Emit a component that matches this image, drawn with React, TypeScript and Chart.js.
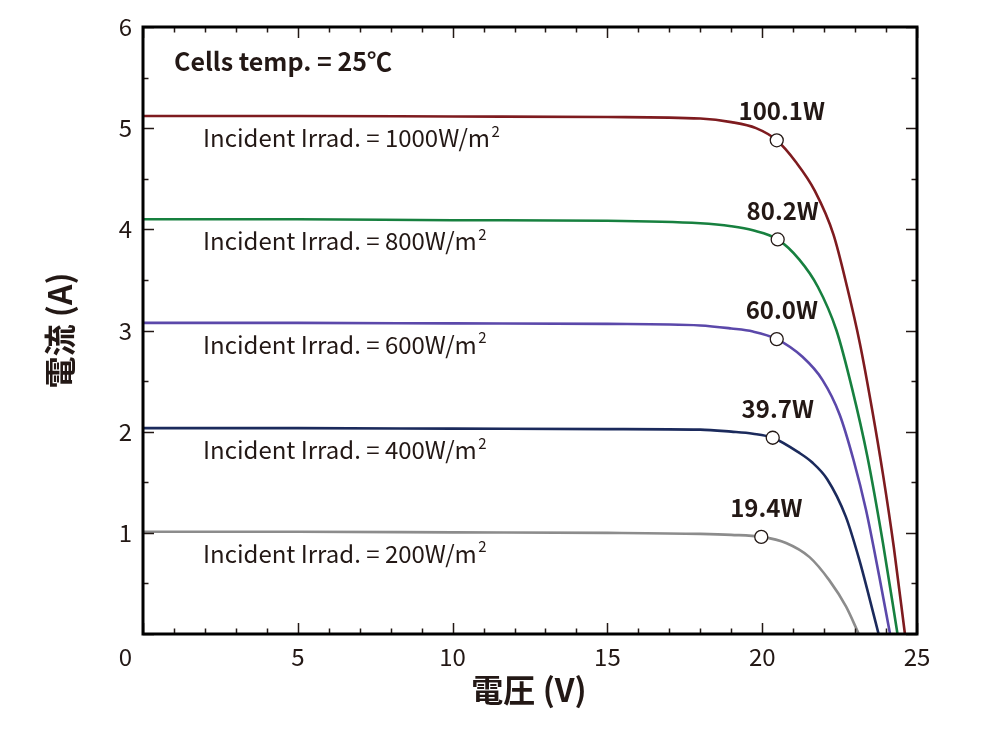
import React, { useEffect, useRef } from 'react';
import { Chart, registerables } from 'chart.js';

Chart.register(...registerables);

// ---- data ----
const V1000 = [0, 5, 10, 15, 18, 19, 19.8, 20.47, 21.1, 21.7, 22.3, 22.75, 23.15, 23.55, 23.9, 24.25, 24.61];
const I1000 = [5.12, 5.12, 5.115, 5.11, 5.095, 5.06, 5.0, 4.88, 4.66, 4.38, 3.95, 3.42, 2.88, 2.22, 1.58, 0.86, 0];

const V800 = [0, 5, 10, 15, 18, 19, 19.7, 20.5, 21.2, 21.8, 22.4, 22.9, 23.4, 23.9, 24.37];
const I800 = [4.1, 4.1, 4.09, 4.085, 4.06, 4.03, 3.99, 3.9, 3.7, 3.43, 3.0, 2.43, 1.75, 0.9, 0];

const V600 = [0, 5, 10, 15, 18, 19, 19.7, 20.47, 21.3, 21.95, 22.5, 22.95, 23.35, 23.78, 24.13];
const I600 = [3.075, 3.075, 3.07, 3.065, 3.05, 3.02, 2.99, 2.915, 2.74, 2.51, 2.17, 1.72, 1.23, 0.57, 0];

const V400 = [0, 5, 10, 15, 18, 19, 19.7, 20.34, 21.2, 21.6, 22.1, 22.7, 23.14, 23.46, 23.76];
const I400 = [2.035, 2.035, 2.03, 2.025, 2.02, 2.0, 1.98, 1.94, 1.79, 1.7, 1.53, 1.16, 0.73, 0.36, 0];

const V200 = [0, 5, 10, 15, 18, 19, 19.97, 20.77, 21.53, 22.17, 22.71, 23.12];
const I200 = [1.01, 1.01, 1.005, 1.0, 0.99, 0.98, 0.96, 0.9, 0.76, 0.53, 0.27, 0];

const seriesLabels = [
  'Incident Irrad. = 1000W/m',
  'Incident Irrad. = 800W/m',
  'Incident Irrad. = 600W/m',
  'Incident Irrad. = 400W/m',
  'Incident Irrad. = 200W/m',
];
const unitSuperscript = '2';
const seriesColors = ['#7e1b1f', '#17803f', '#5b48aa', '#1b2a5c', '#8c8c8c'];

const mppV = [20.47, 20.5, 20.47, 20.34, 19.97];
const mppI = [4.88, 3.9, 2.915, 1.94, 0.96];
const mppLabels = ['100.1W', '80.2W', '60.0W', '39.7W', '19.4W'];

const xTickValues = [0, 5, 10, 15, 20, 25];
const yTickValues = [0, 1, 2, 3, 4, 5, 6];

const tempLabel = 'Cells temp. = 25℃';
const xTitle = '電圧 (V)';
const yTitle = '電流 (A)';

const FONT = '"Noto Sans CJK JP", "Noto Sans", sans-serif';
const TEXT = '#231815';

const seriesV = [V1000, V800, V600, V400, V200];
const seriesI = [I1000, I800, I600, I400, I200];

const decorPlugin = {
  id: 'decor',
  afterDatasetsDraw(chart: any) {
    const { ctx, chartArea: a, scales } = chart;
    const x = scales.x;
    const y = scales.y;
    ctx.save();

    // inward tick marks on all four sides
    ctx.strokeStyle = TEXT;
    ctx.lineWidth = 1.5;
    for (let v = 0; v <= 25; v++) {
      const px = Math.round(x.getPixelForValue(v)) + 0.5;
      const len = v % 5 === 0 ? 11 : 5.5;
      ctx.beginPath();
      ctx.moveTo(px, a.bottom);
      ctx.lineTo(px, a.bottom - len);
      ctx.moveTo(px, a.top);
      ctx.lineTo(px, a.top + len);
      ctx.stroke();
    }
    for (let k = 0; k <= 12; k++) {
      const v = k / 2;
      const py = Math.round(y.getPixelForValue(v)) + 0.5;
      const len = k % 2 === 0 ? 11 : 5.5;
      ctx.beginPath();
      ctx.moveTo(a.left, py);
      ctx.lineTo(a.left + len, py);
      ctx.moveTo(a.right, py);
      ctx.lineTo(a.right - len, py);
      ctx.stroke();
    }

    // frame
    ctx.strokeStyle = '#000';
    ctx.lineWidth = 3;
    ctx.strokeRect(a.left, a.top, a.right - a.left, a.bottom - a.top);

    ctx.fillStyle = TEXT;

    // irradiance labels, under each curve's plateau
    ctx.textAlign = 'left';
    ctx.textBaseline = 'alphabetic';
    seriesLabels.forEach((t, i) => {
      const py = y.getPixelForValue(seriesI[i][0]) + 31;
      const px = x.getPixelForValue(0) + 60;
      ctx.font = `400 24px ${FONT}`;
      ctx.fillText(t, px, py);
      const w = ctx.measureText(t).width;
      ctx.font = `400 15px ${FONT}`;
      ctx.fillText(unitSuperscript, px + w + 1.5, py - 10.5);
    });

    // max power labels
    ctx.font = `700 24px ${FONT}`;
    ctx.textAlign = 'center';
    ctx.textBaseline = 'middle';
    mppLabels.forEach((t, i) => {
      const px = x.getPixelForValue(mppV[i]);
      const py = y.getPixelForValue(mppI[i]);
      ctx.fillText(t, px + 5, py - 29);
    });

    // temperature note
    ctx.font = `700 25px ${FONT}`;
    ctx.textAlign = 'left';
    ctx.fillText(tempLabel, a.left + 31, a.top + 34);

    // corner zero
    ctx.font = `400 24px ${FONT}`;
    ctx.textAlign = 'right';
    ctx.fillText('0', a.left - 11, a.bottom + 23);

    // axis titles
    ctx.font = `700 32px ${FONT}`;
    ctx.textAlign = 'center';
    ctx.fillText(xTitle, (a.left + a.right) / 2 - 1, 690);
    ctx.save();
    ctx.translate(60, (a.top + a.bottom) / 2);
    ctx.rotate(-Math.PI / 2);
    ctx.fillText(yTitle, 0, 0);
    ctx.restore();

    ctx.restore();
  },
};

export default function App() {
  const ref = useRef<HTMLCanvasElement | null>(null);

  useEffect(() => {
    if (!ref.current) return;
    const lineSets = seriesV.map((vs, i) => ({
      type: 'line' as const,
      label: seriesLabels[i],
      data: vs.map((v, j) => ({ x: v, y: seriesI[i][j] })),
      borderColor: seriesColors[i],
      backgroundColor: seriesColors[i],
      borderWidth: 2.6,
      pointRadius: 0,
      cubicInterpolationMode: 'monotone' as const,
      fill: false,
    }));
    const mppSet = {
      type: 'scatter' as const,
      label: 'MPP',
      data: mppV.map((v, i) => ({ x: v, y: mppI[i] })),
      pointRadius: 6.5,
      pointBackgroundColor: '#ffffff',
      pointBorderColor: TEXT,
      pointBorderWidth: 1.3,
      showLine: false,
    };

    const chart = new Chart(ref.current, {
      type: 'line',
      data: { datasets: [mppSet as any, ...lineSets] },
      options: {
        responsive: false,
        animation: false,
        devicePixelRatio: 1,
        layout: { padding: { top: 27, right: 83, left: 0, bottom: 0 } },
        plugins: { legend: { display: false }, tooltip: { enabled: false }, title: { display: false } },
        scales: {
          x: {
            type: 'linear',
            min: 0,
            max: 25,
            afterFit: (s: any) => { s.height = 96; },
            afterBuildTicks: (s: any) => { s.ticks = xTickValues.map((v) => ({ value: v })); },
            grid: { display: false, drawTicks: false },
            border: { display: false },
            ticks: {
              padding: 8,
              color: TEXT,
              font: { family: FONT, size: 24 },
              callback: (v: any) => (v === 0 ? '' : String(v)),
              maxRotation: 0,
            },
          },
          y: {
            type: 'linear',
            min: 0,
            max: 6,
            afterFit: (s: any) => { s.width = 143; },
            afterBuildTicks: (s: any) => { s.ticks = yTickValues.map((v) => ({ value: v })); },
            grid: { display: false, drawTicks: false },
            border: { display: false },
            ticks: {
              padding: 11,
              color: TEXT,
              font: { family: FONT, size: 24 },
              callback: (v: any) => (v === 0 ? '' : String(v)),
            },
          },
        },
      },
      plugins: [decorPlugin],
    });
    return () => chart.destroy();
  }, []);

  return (
    <div style={{ position: 'fixed', left: 0, top: 0, width: 1000, height: 730, background: '#fff' }}>
      <canvas ref={ref} width={1000} height={730} />
    </div>
  );
}
